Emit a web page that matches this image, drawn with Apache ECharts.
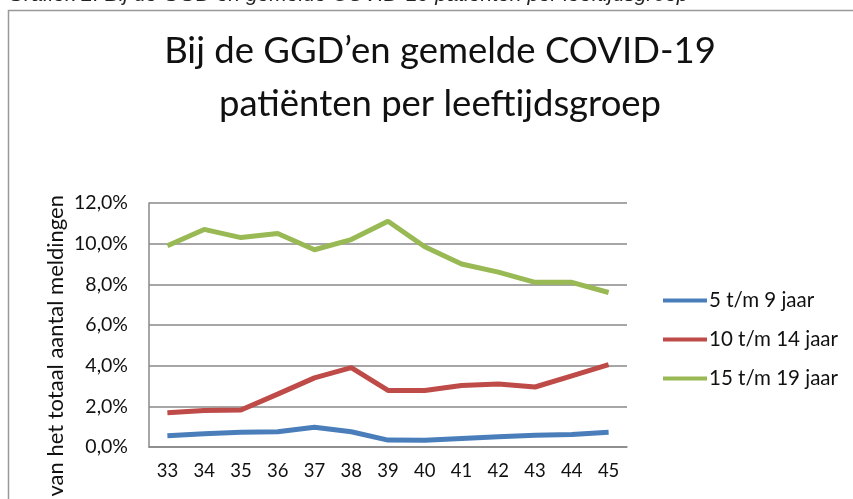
<!DOCTYPE html>
<html>
<head>
<meta charset="utf-8">
<script src="https://cdn.jsdelivr.net/npm/echarts@6/dist/echarts.min.js"></script>
<style>
  html, body { margin: 0; padding: 0; background: #fff; }
  #chart { width: 853px; height: 499px; }
</style>
</head>
<body>
<div id="chart"></div>
<script>
// weeknummers
var weeks = ['33', '34', '35', '36', '37', '38', '39', '40', '41', '42', '43', '44', '45'];
var yTicks = [0, 2, 4, 6, 8, 10, 12];
var names = ['5 t/m 9 jaar', '10 t/m 14 jaar', '15 t/m 19 jaar'];
var age5to9 = [0.55, 0.65, 0.72, 0.75, 0.97, 0.75, 0.34, 0.33, 0.42, 0.5, 0.58, 0.62, 0.72];
var age10to14 = [1.68, 1.8, 1.82, 2.6, 3.4, 3.9, 2.78, 2.78, 3.02, 3.1, 2.95, 3.5, 4.05];
var age15to19 = [9.9, 10.7, 10.3, 10.5, 9.7, 10.2, 11.1, 9.85, 9.0, 8.6, 8.1, 8.1, 7.6];

var colors = ['#4A7EBB', '#BE4B48', '#98B954'];
var font = 'Lato, "Open Sans", sans-serif';

var chart = echarts.init(document.getElementById('chart'));

function makeSeries(name, data) {
  return {
    name: name,
    type: 'line',
    data: data,
    symbol: 'none',
    lineStyle: { width: 5 },
    emphasis: { disabled: true }
  };
}

chart.setOption({
  animation: false,
  color: colors,
  textStyle: { fontFamily: font },
  title: {
    text: 'Bij de GGD’en gemelde COVID-19\npatiënten per leeftijdsgroep',
    left: 435,
    top: 20,
    textAlign: 'center',
    textStyle: {
      fontFamily: font,
      fontSize: 36.5,
      fontWeight: 'normal',
      color: '#111',
      lineHeight: 53
    }
  },
  legend: {
    orient: 'vertical',
    left: 658,
    top: 285,
    itemWidth: 44,
    itemHeight: 4,
    itemGap: 18,
    icon: 'rect',
    textStyle: { fontSize: 20.5, color: '#111', fontFamily: font, padding: [0, 0, 0, -3] },
    data: names
  },
  grid: {
    left: 149,
    right: 226,
    top: 203,
    bottom: 52
  },
  xAxis: {
    type: 'category',
    data: weeks,
    boundaryGap: true,
    axisTick: { show: false },
    axisLine: { lineStyle: { color: '#888', width: 1.5 } },
    axisLabel: { color: '#111', fontSize: 18.5, margin: 15 }
  },
  yAxis: {
    type: 'value',
    min: yTicks[0],
    max: yTicks[yTicks.length - 1],
    interval: 2,
    axisLine: { show: true, lineStyle: { color: '#888', width: 1.5 } },
    axisTick: { show: false },
    splitLine: { lineStyle: { color: '#888', width: 1.5 } },
    axisLabel: {
      color: '#111',
      fontSize: 19.5,
      margin: 21,
      formatter: function (v) { return v.toFixed(1).replace('.', ',') + '%'; }
    }
  },
  graphic: [
    {
      type: 'text',
      left: 8,
      top: -15,
      style: {
        text: 'Grafiek 2. Bij de GGD en gemelde COVID-19 patiënten per leeftijdsgroep',
        font: 'italic 21px "Liberation Sans", Arial, sans-serif',
        fill: '#222'
      }
    },
    {
      type: 'polyline',
      shape: { points: [[8.5, 499], [8.5, 10.5], [853, 10.5]] },
      style: { stroke: '#999', lineWidth: 1.5, fill: null }
    },
    {
      type: 'text',
      x: 56,
      y: 195,
      rotation: Math.PI / 2,
      style: {
        text: '% van het totaal aantal meldingen',
        font: '22px ' + font,
        fill: '#111',
        align: 'right',
        verticalAlign: 'middle'
      }
    }
  ],
  series: [
    makeSeries(names[0], age5to9),
    makeSeries(names[1], age10to14),
    makeSeries(names[2], age15to19)
  ]
});
</script>
</body>
</html>
